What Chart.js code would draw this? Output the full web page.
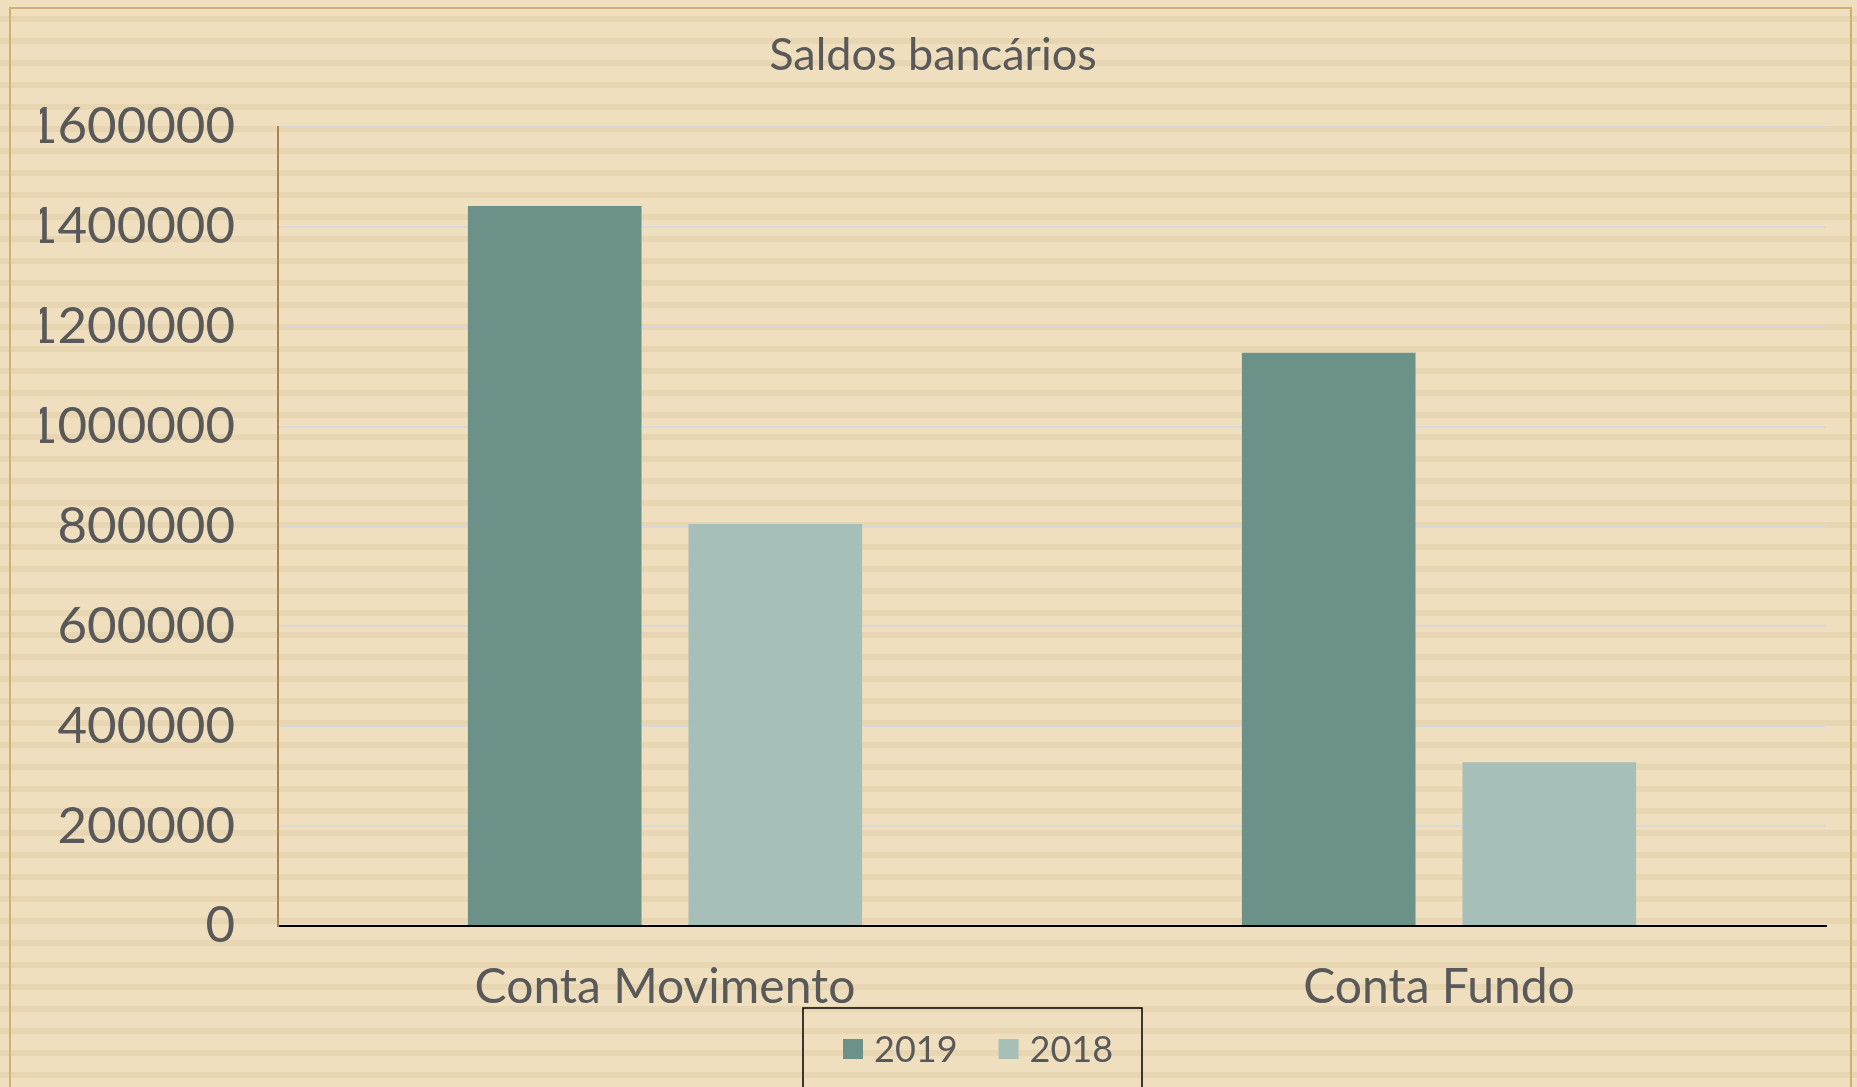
<!DOCTYPE html>
<html>
<head>
<meta charset="utf-8">
<title>Saldos bancários</title>
<script src="https://cdn.jsdelivr.net/npm/chart.js@4/dist/chart.umd.min.js"></script>
<style>
    html, body { margin: 0; padding: 0; background: #EFDFBF; }
    #saldos-chart { display: block; }
</style>
</head>
<body>
<canvas id="saldos-chart" width="1857" height="1087"></canvas>
<script>
// data
const categories = ['Conta Movimento', 'Conta Fundo'];
const seriesLabels = ['2019', '2018'];
const values2019 = [1442000, 1148000];
const values2018 = [805000, 328000];
const yTicks = [0, 200000, 400000, 600000, 800000, 1000000, 1200000, 1400000, 1600000];

const colors = ['#6B9189', '#A6C0B9'];
const textColor = '#595959';
const fontFamily = 'Lato, "Noto Sans", sans-serif';

// striped paper background + outer frame
const background = {
    id: 'background',
    beforeDraw(chart) {
        const ctx = chart.ctx;
        const w = chart.width, h = chart.height;
        ctx.save();
        ctx.fillStyle = '#EFDFBF';
        ctx.fillRect(0, 0, w, h);
        ctx.fillStyle = '#E8D6B2';
        for (let y = 16; y < h; y += 22) {
            ctx.fillRect(0, y, w, 6);
        }
        ctx.strokeStyle = '#D0B073';
        ctx.lineWidth = 2;
        ctx.strokeRect(10, 8, w - 20 + 4, h + 10);
        ctx.restore();
    }
};

// legend drawn by hand so it sits where the original has it
const boxedLegend = {
    id: 'boxedLegend',
    afterDraw(chart) {
        const ctx = chart.ctx;
        ctx.save();
        ctx.strokeStyle = '#000000';
        ctx.lineWidth = 1.5;
        ctx.strokeRect(803, 1008, 339, 120);
        ctx.font = '36px ' + fontFamily;
        ctx.textBaseline = 'middle';
        ctx.textAlign = 'left';
        let x = 843;
        chart.data.datasets.forEach((ds) => {
            ctx.fillStyle = ds.backgroundColor;
            ctx.fillRect(x, 1039, 20, 20);
            ctx.fillStyle = textColor;
            ctx.fillText(ds.label, x + 31, 1050);
            x += 31 + ctx.measureText(ds.label).width + 41;
        });
        ctx.restore();
    }
};

const ctx = document.getElementById('saldos-chart').getContext('2d');
new Chart(ctx, {
    type: 'bar',
    data: {
        labels: categories,
        datasets: [
            {
                label: seriesLabels[0],
                data: values2019,
                backgroundColor: colors[0],
                categoryPercentage: 0.57,
                barPercentage: 0.787,
            },
            {
                label: seriesLabels[1],
                data: values2018,
                backgroundColor: colors[1],
                categoryPercentage: 0.57,
                barPercentage: 0.787,
            }
        ]
    },
    options: {
        responsive: false,
        animation: false,
        layout: {
            padding: { left: 40, right: 31, top: 0, bottom: 0 }
        },
        plugins: {
            legend: { display: false },
            tooltip: { enabled: false },
            title: {
                display: true,
                text: 'Saldos bancários',
                color: textColor,
                font: { family: fontFamily, size: 45, weight: 'normal' },
                padding: { top: 28, bottom: 45 }
            }
        },
        scales: {
            x: {
                grid: { display: false, drawTicks: false },
                border: { display: true, color: '#000000', width: 2 },
                ticks: {
                    color: textColor,
                    font: { family: fontFamily, size: 48 },
                    padding: 33
                },
                afterFit(scale) { scale.height = 161; }
            },
            y: {
                min: 0,
                max: 1600000,
                afterBuildTicks(scale) {
                    scale.ticks = yTicks.map((v) => ({ value: v }));
                },
                grid: { color: '#D9D9D9', lineWidth: 2, drawTicks: false },
                border: { display: true, color: '#A9884F', width: 2 },
                ticks: {
                    color: textColor,
                    font: { family: fontFamily, size: 51 },
                    padding: 43,
                    callback: (v) => String(v)
                },
                afterFit(scale) { scale.width = 238; }
            }
        }
    },
    plugins: [background, boxedLegend]
});
</script>
</body>
</html>
